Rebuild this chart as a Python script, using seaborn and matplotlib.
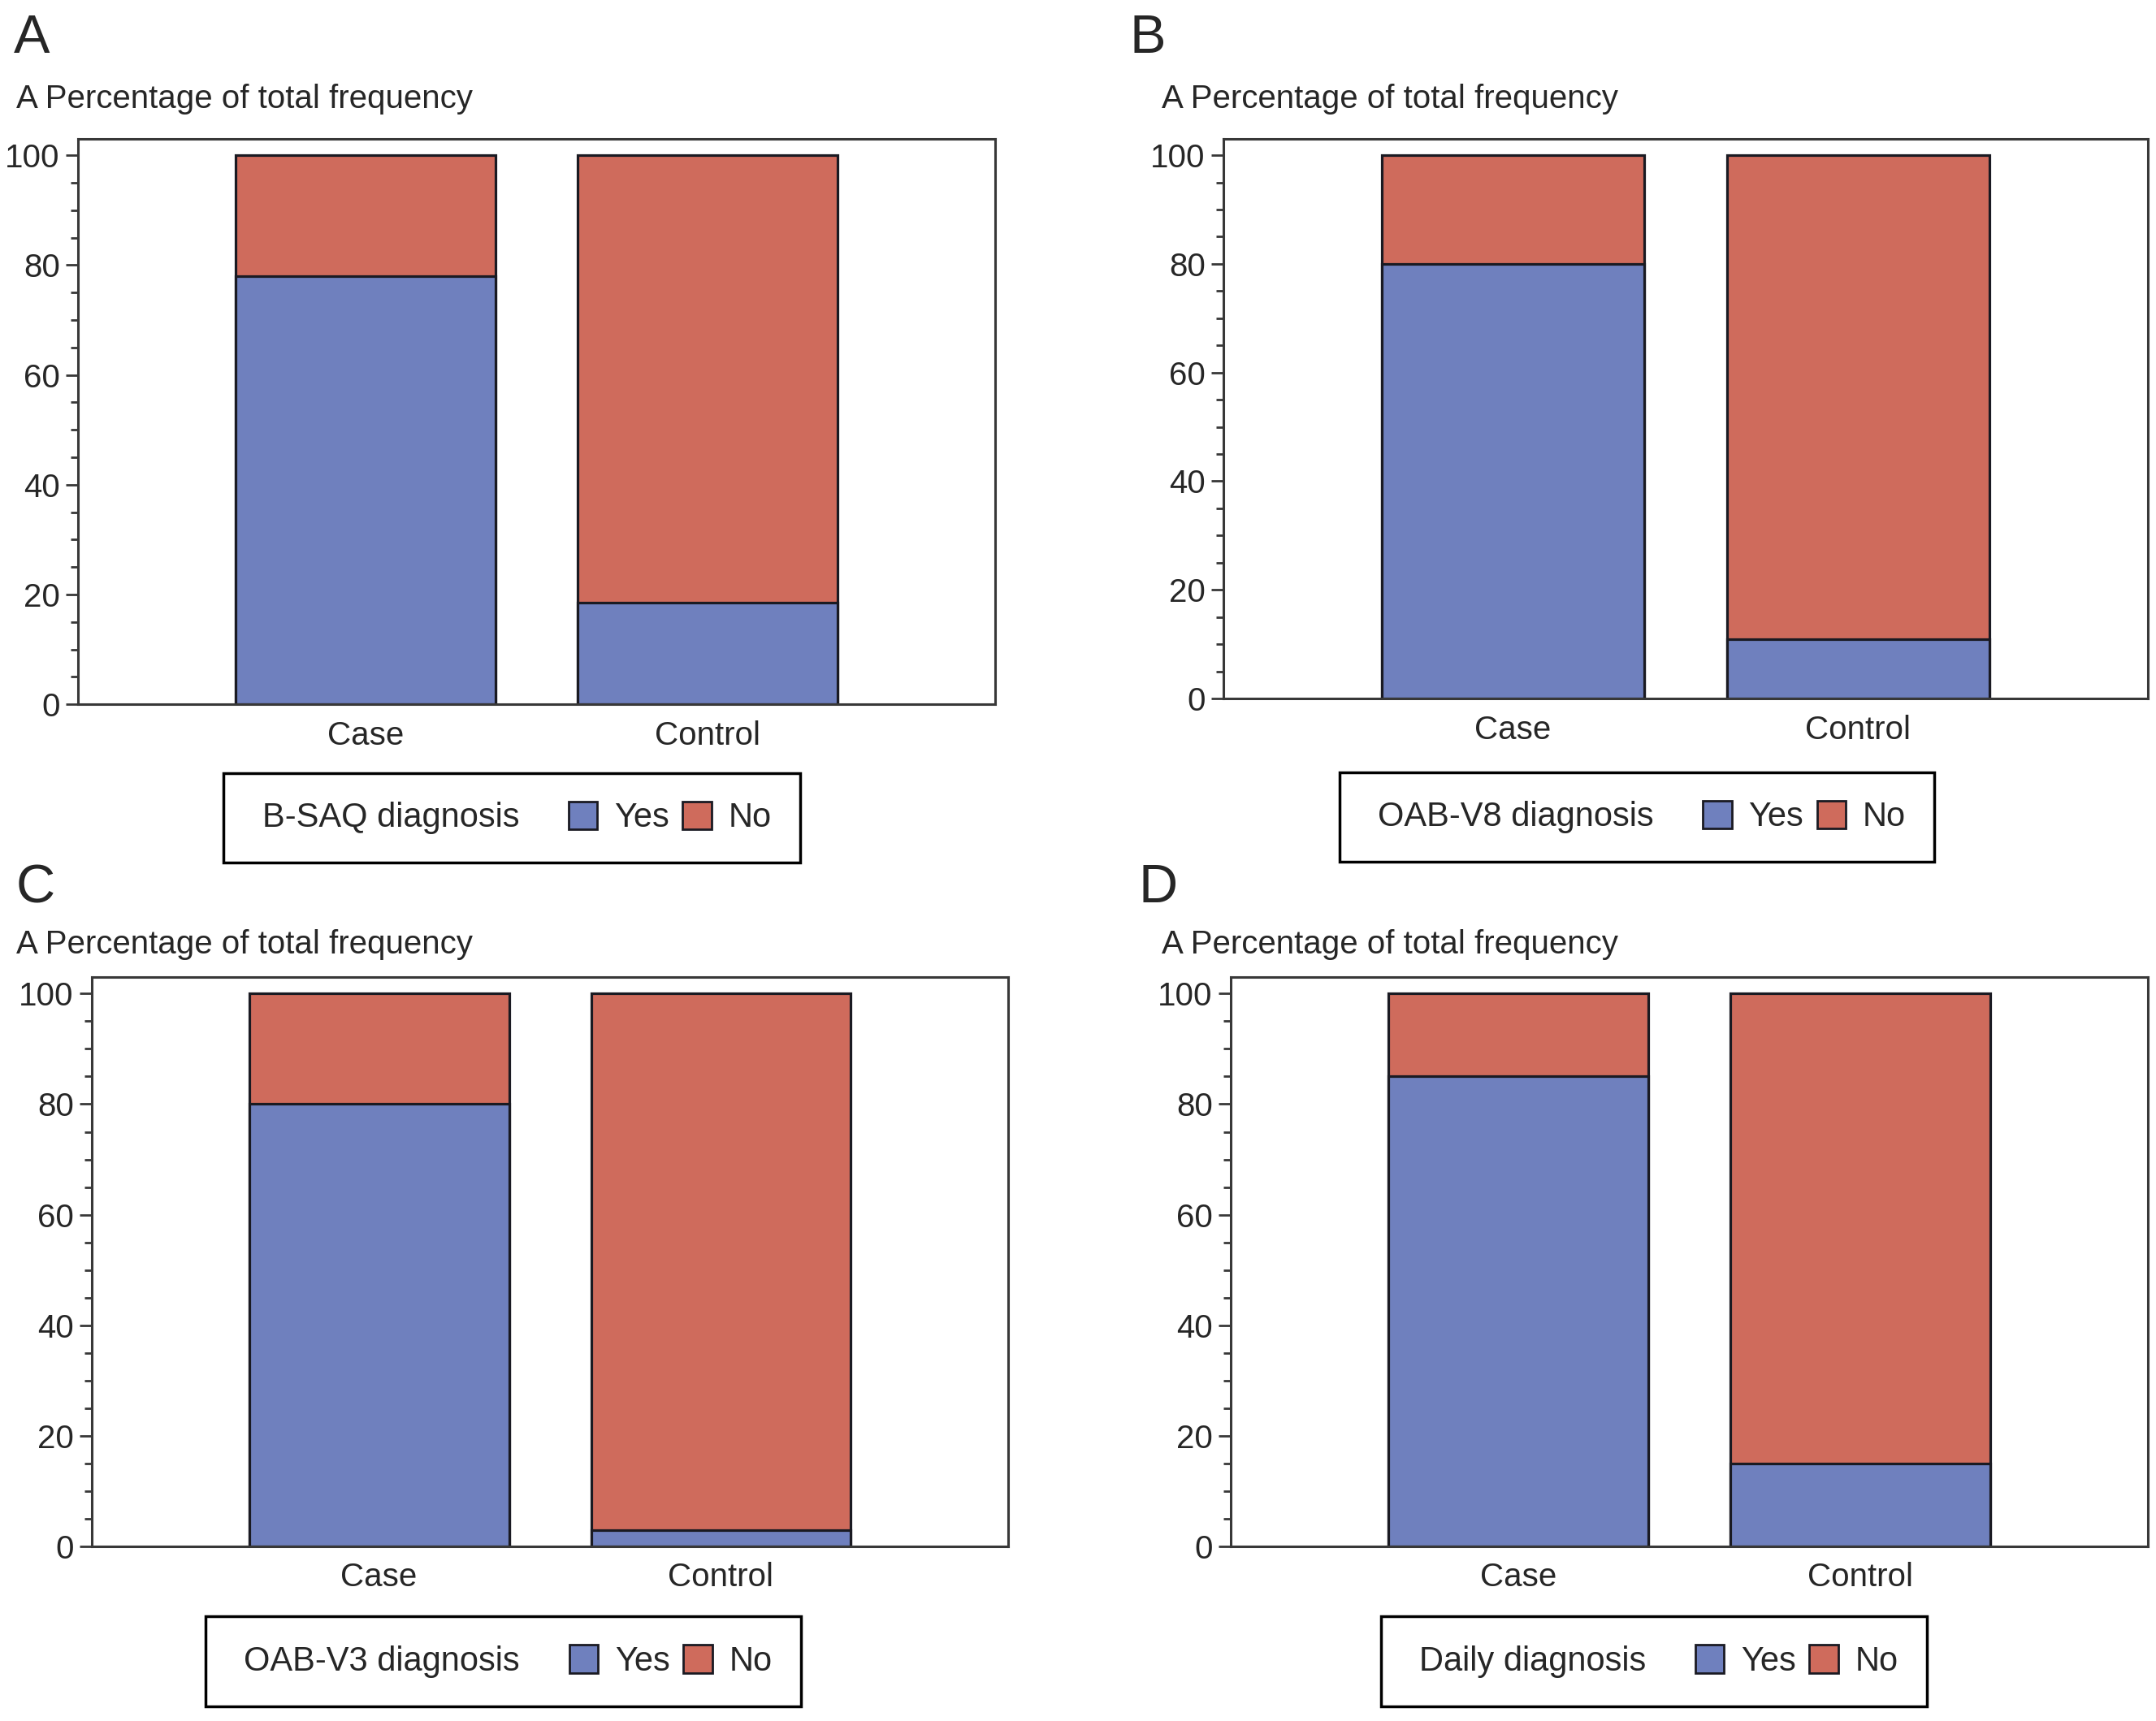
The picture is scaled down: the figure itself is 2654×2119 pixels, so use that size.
import matplotlib

matplotlib.use('Agg')
import matplotlib.pyplot as plt
import pandas as pd
import seaborn as sns
from matplotlib.patches import Rectangle
from matplotlib.ticker import MultipleLocator

groups = ['Case', 'Control']
panel_letters = ['A', 'B', 'C', 'D']
legend_titles = ['B-SAQ diagnosis', 'OAB-V8 diagnosis', 'OAB-V3 diagnosis', 'Daily diagnosis']
yes_pct = [[78, 18.5], [80, 11], [80, 3], [85, 15]]
no_pct = [[22, 81.5], [20, 89], [20, 97], [15, 85]]
y_caption = 'A Percentage of total frequency'
y_ticks = [0, 20, 40, 60, 80, 100]

YES_COLOR = '#6f80be'
NO_COLOR = '#cf6b5c'
LINE_COLOR = '#383838'

axes_rects = [
    (0.0362, 0.5908, 0.4254, 0.3285),
    (0.5674, 0.5941, 0.4288, 0.3252),
    (0.0426, 0.1015, 0.4250, 0.3308),
    (0.5708, 0.1015, 0.4254, 0.3308),
]
letter_pos = [(0.0064, 0.992), (0.524, 0.992), (0.0075, 0.4983), (0.528, 0.4983)]
caption_pos = [(0.0075, 0.9424), (0.5388, 0.9424), (0.0075, 0.4512), (0.5388, 0.4512)]
legend_centers = [(0.2374, 0.5248), (0.7592, 0.5252), (0.2334, 0.0347), (0.767, 0.0347)]

sns.set_style('white')
plt.rcParams['font.family'] = ['Liberation Sans', 'DejaVu Sans']

fig = plt.figure(figsize=(26.54, 21.19), dpi=100)

for i in range(4):
    df = pd.DataFrame({
        'group': groups,
        'yes': yes_pct[i],
        'no': no_pct[i],
    })
    df['total'] = df['yes'] + df['no']

    ax = fig.add_axes(axes_rects[i])
    # stacked look: full bar in "No" colour, then "Yes" drawn over it
    sns.barplot(data=df, x='group', y='total', order=groups, color=NO_COLOR, saturation=1,
                width=0.76, edgecolor='#1a1a22', linewidth=2.3, ax=ax)
    sns.barplot(data=df, x='group', y='yes', order=groups, color=YES_COLOR, saturation=1,
                width=0.76, edgecolor='#1a1a22', linewidth=2.3, ax=ax)

    ax.set_xlim(-0.84, 1.84)
    ax.set_ylim(0, 103)
    ax.set_xlabel('')
    ax.set_ylabel('')
    ax.set_yticks(y_ticks)
    ax.yaxis.set_minor_locator(MultipleLocator(5))
    ax.tick_params(axis='y', which='major', left=True, length=11, width=2, labelsize=29,
                   pad=5, color=LINE_COLOR)
    ax.tick_params(axis='y', which='minor', left=True, length=6.5, width=2, color=LINE_COLOR)
    ax.tick_params(axis='x', length=0, labelsize=29, pad=14)

    for side in ['left', 'bottom', 'top', 'right']:
        ax.spines[side].set_color(LINE_COLOR)
        ax.spines[side].set_linewidth(2.2)

    fig.text(*letter_pos[i], panel_letters[i], fontsize=48, ha='left', va='top')
    fig.text(*caption_pos[i], y_caption, fontsize=29, ha='left', va='center')

    handles = [
        Rectangle((0, 0), 1, 1, alpha=0),
        Rectangle((0, 0), 1, 1, facecolor=YES_COLOR, edgecolor='#1a1a22', linewidth=2),
        Rectangle((0, 0), 1, 1, facecolor=NO_COLOR, edgecolor='#1a1a22', linewidth=2),
    ]
    leg = ax.legend(handles, [legend_titles[i], 'Yes', 'No'], ncol=3, loc='center',
                    bbox_to_anchor=legend_centers[i], bbox_transform=fig.transFigure,
                    frameon=True, fancybox=False, framealpha=1, edgecolor='black',
                    fontsize=30, handlelength=0.85, handleheight=0.9, handletextpad=0.5,
                    columnspacing=0.4, borderpad=0.84)
    leg.get_frame().set_linewidth(2.5)
    # the first entry is only a caption: pull it left over its empty handle slot
    leg.get_texts()[0].set_x(-44)

fig.savefig('out.png', dpi=100, facecolor='white')
